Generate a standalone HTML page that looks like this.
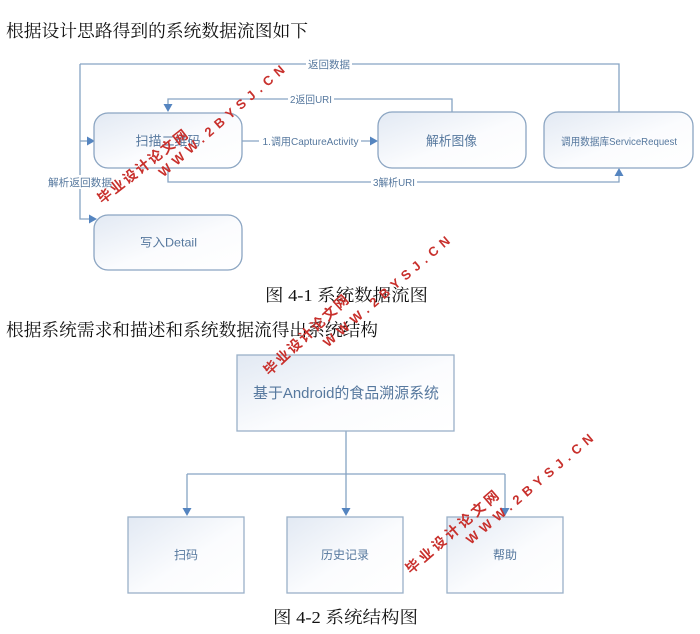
<!DOCTYPE html>
<html><head><meta charset="utf-8">
<style>
html,body{margin:0;padding:0;background:#fff;}
svg{display:block;}
.h{font-family:"Liberation Serif","Noto Serif CJK SC",serif;fill:#111;}
.s{font-family:"Liberation Sans","Noto Sans CJK SC",sans-serif;fill:#56789e;}
.w{font-family:"Liberation Sans","Noto Sans CJK SC",sans-serif;fill:#c8302c;font-weight:bold;}
</style></head>
<body>
<svg width="700" height="634" viewBox="0 0 700 634" xmlns="http://www.w3.org/2000/svg">
<defs>
<linearGradient id="g" x1="0" y1="0" x2="1" y2="1">
<stop offset="0" stop-color="#e2e9f3"/>
<stop offset="0.55" stop-color="#fbfcfe"/>
<stop offset="1" stop-color="#ffffff"/>
</linearGradient>
</defs>

<!-- Headings -->
<text class="h" x="6" y="37" font-size="17.7" textLength="302" lengthAdjust="spacingAndGlyphs">根据设计思路得到的系统数据流图如下</text>
<text class="h" x="265" y="301" font-size="17" textLength="163" lengthAdjust="spacingAndGlyphs">图 4-1 系统数据流图</text>
<text class="h" x="6" y="336" font-size="17.7" textLength="372" lengthAdjust="spacingAndGlyphs">根据系统需求和描述和系统数据流得出系统结构</text>
<text class="h" x="273" y="623" font-size="17" textLength="145" lengthAdjust="spacingAndGlyphs">图 4-2 系统结构图</text>

<!-- Diagram 1 connectors -->
<g fill="none" stroke="#86a3c3" stroke-width="1.3">
<path d="M80,64 H619 V112"/>
<path d="M80,64 V219 H89"/>
<path d="M80,141 H87"/>
<path d="M452,112 V99 H168 V105"/>
<path d="M168,168 V182 H619 V176"/>
<path d="M242,141 H371"/>
</g>
<g fill="#5585c0">
<polygon points="87,136.5 95,141 87,145.5"/>
<polygon points="89,214.5 97,219 89,223.5"/>
<polygon points="163.5,104 172.5,104 168,112"/>
<polygon points="614.5,176 623.5,176 619,168"/>
<polygon points="370,136.5 378,141 370,145.5"/>
</g>

<!-- Diagram 1 labels with white background -->
<g fill="#fff">
<rect x="306" y="57" width="46" height="14"/>
<rect x="288" y="92" width="46" height="14"/>
<rect x="259" y="134" width="102" height="14"/>
<rect x="371" y="175" width="46" height="14"/>
<rect x="46" y="175" width="68" height="14"/>
</g>
<text class="s" x="329" y="68" font-size="10.5" text-anchor="middle" textLength="42" lengthAdjust="spacingAndGlyphs">返回数据</text>
<text class="s" x="311" y="103" font-size="10.5" text-anchor="middle" textLength="42" lengthAdjust="spacingAndGlyphs">2返回URI</text>
<text class="s" x="310.5" y="145" font-size="10.5" text-anchor="middle" textLength="96" lengthAdjust="spacingAndGlyphs">1.调用CaptureActivity</text>
<text class="s" x="394" y="186" font-size="10.5" text-anchor="middle" textLength="42" lengthAdjust="spacingAndGlyphs">3解析URI</text>
<text class="s" x="80" y="186" font-size="10.5" text-anchor="middle" textLength="64" lengthAdjust="spacingAndGlyphs">解析返回数据</text>

<!-- Diagram 1 boxes -->
<g fill="url(#g)" stroke="#8ba5c2" stroke-width="1.3">
<rect x="94" y="113" width="148" height="55" rx="14"/>
<rect x="378" y="112" width="148" height="56" rx="14"/>
<rect x="544" y="112" width="149" height="56" rx="14"/>
<rect x="94" y="215" width="148" height="55" rx="14"/>
</g>
<text class="s" x="168" y="145.5" font-size="13" text-anchor="middle">扫描二维码</text>
<text class="s" x="451.5" y="145.5" font-size="13" text-anchor="middle" textLength="51" lengthAdjust="spacingAndGlyphs">解析图像</text>
<text class="s" x="619" y="145" font-size="10.5" text-anchor="middle" textLength="116" lengthAdjust="spacingAndGlyphs">调用数据库ServiceRequest</text>
<text class="s" x="168.5" y="246.5" font-size="12" text-anchor="middle" textLength="57" lengthAdjust="spacingAndGlyphs">写入Detail</text>

<!-- Diagram 2 -->
<g fill="none" stroke="#86a3c3" stroke-width="1.3">
<path d="M346,431 V509"/>
<path d="M187,474 H505"/>
<path d="M187,474 V509"/>
<path d="M505,474 V509"/>
</g>
<g fill="#5585c0">
<polygon points="182.5,508 191.5,508 187,516"/>
<polygon points="341.5,508 350.5,508 346,516"/>
<polygon points="500.5,508 509.5,508 505,516"/>
</g>
<g fill="url(#g)" stroke="#9ab0c8" stroke-width="1.3">
<rect x="237" y="355" width="217" height="76"/>
<rect x="128" y="517" width="116" height="76"/>
<rect x="287" y="517" width="116" height="76"/>
<rect x="447" y="517" width="116" height="76"/>
</g>
<text class="s" x="346" y="398" font-size="15" text-anchor="middle" textLength="186" lengthAdjust="spacingAndGlyphs">基于Android的食品溯源系统</text>
<text class="s" x="186" y="559" font-size="12" text-anchor="middle">扫码</text>
<text class="s" x="345" y="559" font-size="12" text-anchor="middle">历史记录</text>
<text class="s" x="505" y="559" font-size="12" text-anchor="middle">帮助</text>

<!-- Watermarks -->
<g class="w">
<text transform="translate(142.5,166.5) rotate(-38)" font-size="14" text-anchor="middle" dominant-baseline="central" textLength="110" lengthAdjust="spacing">毕业设计论文网</text>
<text transform="translate(221.5,121) rotate(-41)" font-size="13" text-anchor="middle" dominant-baseline="central" textLength="162" lengthAdjust="spacing">WWW.2BYSJ.CN</text>
<text transform="translate(306,335) rotate(-43)" font-size="14" text-anchor="middle" dominant-baseline="central" textLength="110" lengthAdjust="spacing">毕业设计论文网</text>
<text transform="translate(386.5,291.5) rotate(-40.6)" font-size="13" text-anchor="middle" dominant-baseline="central" textLength="162" lengthAdjust="spacing">WWW.2BYSJ.CN</text>
<text transform="translate(452,532) rotate(-41)" font-size="14" text-anchor="middle" dominant-baseline="central" textLength="118" lengthAdjust="spacing">毕业设计论文网</text>
<text transform="translate(529.5,489) rotate(-40.4)" font-size="13" text-anchor="middle" dominant-baseline="central" textLength="162" lengthAdjust="spacing">WWW.2BYSJ.CN</text>
</g>
</svg>
</body></html>
